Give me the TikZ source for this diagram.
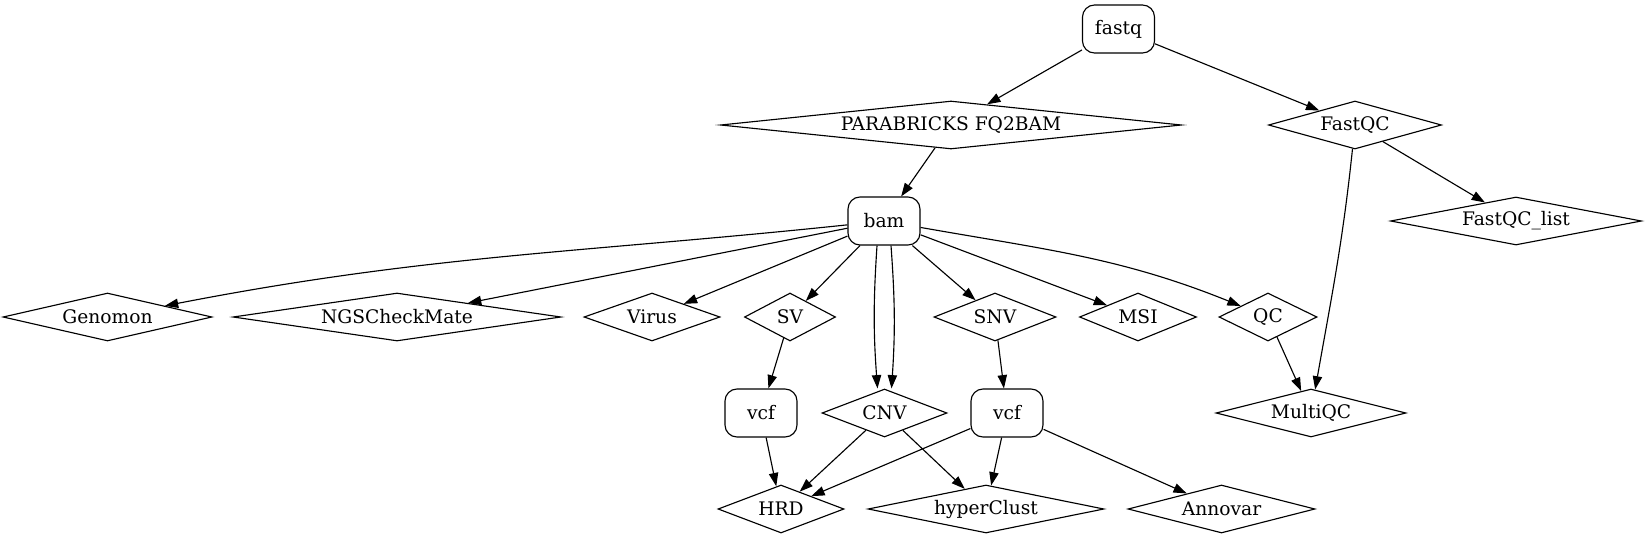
\documentclass[tikz,border=0pt]{standalone}
\usepackage{fontspec}
\setmainfont{DejaVu Serif}
\usepackage{tikz}
\usetikzlibrary{shapes.geometric, arrows.meta, positioning, calc}

\begin{document}
\begin{tikzpicture}[x=0.75pt, y=0.75pt, line width=0.85pt,
    every node/.style={font=\fontsize{14}{16}\selectfont},
    data/.style={draw, rounded corners=9pt, minimum width=54pt, minimum height=36pt, inner sep=0pt},
    tool/.code={\pgfmathsetmacro\toolaspect{#1/48}%
      \pgfmathsetlengthmacro\toolwidth{#1*0.75pt}%
      \tikzset{diamond, draw, inner sep=0pt, minimum height=36pt, minimum width=\toolwidth, aspect=\toolaspect}},
    flow/.style={-{Triangle[length=10pt, width=7pt]}}]
    \useasboundingbox (0,0) rectangle (1645,-539);

    % inputs and aligners
    \node[data] (fastq) at (1118.5,-29) {fastq};
    \node[tool=461] (fq2bam) at (951,-125) {PARABRICKS FQ2BAM};
    \node[tool=173] (fastqc) at (1355,-125) {FastQC};
    \node[data] (bam) at (884,-221) {bam};
    \node[tool=251] (fastqclist) at (1516,-221) {FastQC\_list};

    % callers
    \node[tool=209] (genomon) at (107.5,-317) {Genomon};
    \node[tool=328] (ngscm) at (397,-317) {NGSCheckMate};
    \node[tool=136] (virus) at (652,-317) {Virus};
    \node[tool=91] (sv) at (790,-317) {SV};
    \node[tool=122] (snv) at (995,-317) {SNV};
    \node[tool=117] (msi) at (1138,-317) {MSI};
    \node[tool=98] (qc) at (1268,-317) {QC};

    \node[data] (svvcf) at (761,-413) {vcf};
    \node[tool=125] (cnv) at (884.5,-413) {CNV};
    \node[data] (snvvcf) at (1007,-413) {vcf};
    \node[tool=190] (multiqc) at (1311,-413) {MultiQC};

    \node[tool=126] (hrd) at (781,-509) {HRD};
    \node[tool=236] (hyperclust) at (986,-509) {hyperClust};
    \node[tool=187] (annovar) at (1221.5,-509) {Annovar};

    \draw[flow] (fastq) -- (fq2bam);
    \draw[flow] (fastq) -- (fastqc);
    \draw[flow] (fq2bam) -- (bam);
    \draw[flow] (fastqc) -- (fastqclist);
    \draw[flow] (fastqc) to[out=-96, in=80] (multiqc);

    \draw[flow] (bam) to[out=186, in=11] (genomon);
    \draw[flow] (bam) -- (ngscm);
    \draw[flow] (bam) -- (virus);
    \draw[flow] (bam) -- (sv);
    \draw[flow] ([xshift=-5.25pt]bam.south) to[bend right=4] ([xshift=-5.25pt]cnv.north);
    \draw[flow] ([xshift=5.25pt]bam.south) to[bend left=4] ([xshift=5.25pt]cnv.north);
    \draw[flow] (bam) -- (snv);
    \draw[flow] (bam) -- (msi);
    \draw[flow] (bam) to[out=-10, in=158] (qc);

    \draw[flow] (sv) -- (svvcf);
    \draw[flow] (snv) -- (snvvcf);
    \draw[flow] (qc) -- (multiqc);
    \draw[flow] (svvcf) -- (hrd);
    \draw[flow] (cnv) -- (hrd);
    \draw[flow] (cnv) -- (hyperclust);
    \draw[flow] (snvvcf) -- (hrd);
    \draw[flow] (snvvcf) -- (hyperclust);
    \draw[flow] (snvvcf) -- (annovar);
\end{tikzpicture}
\end{document}
